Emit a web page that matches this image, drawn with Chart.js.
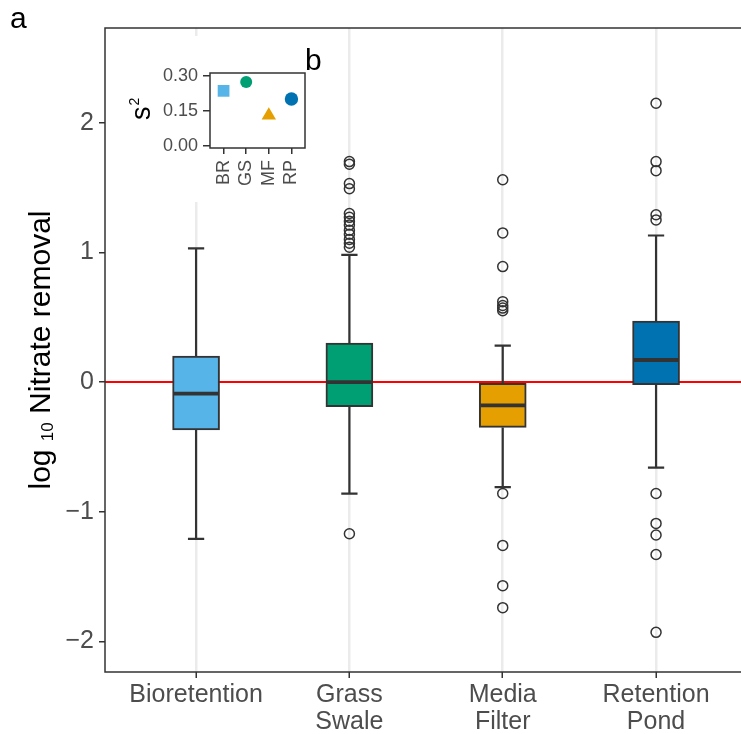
<!DOCTYPE html>
<html>
<head>
<meta charset="utf-8">
<script src="https://cdn.jsdelivr.net/npm/chart.js@4.4.1/dist/chart.umd.min.js"></script>
<style>
  html, body { margin: 0; padding: 0; background: #fff; overflow: hidden; }
  #wrap { position: relative; width: 741px; height: 734px; }
  #main { position: absolute; left: 0; top: 0; }
  #inset { position: absolute; left: 125px; top: 36px; background: #fff; }
</style>
</head>
<body>
<div id="wrap">
  <canvas id="main" width="741" height="734"></canvas>
  <canvas id="inset" width="215" height="166"></canvas>
</div>
<script>
// data
var categories = ["Bioretention", ["Grass", "Swale"], ["Media", "Filter"], ["Retention", "Pond"]];
var shortNames = ["BR", "GS", "MF", "RP"];
var boxColors = ["#56B4E9", "#009E73", "#E69F00", "#0072B2"];

var whiskerLow = [-1.21, -0.86, -0.81, -0.66];
var q1 = [-0.37, -0.19, -0.35, -0.02];
var median = [-0.09, 0.0, -0.18, 0.17];
var q3 = [0.20, 0.30, -0.01, 0.47];
var whiskerHigh = [1.03, 0.98, 0.28, 1.13];

var outliersBR = [];
var outliersGS = [1.70, 1.68, 1.53, 1.49, 1.30, 1.27, 1.24, 1.21, 1.17, 1.14, 1.10, 1.07, 1.04, -1.17];
var outliersMF = [1.56, 1.15, 0.89, 0.62, 0.59, 0.57, 0.55, -0.86, -1.26, -1.57, -1.74];
var outliersRP = [2.15, 1.70, 1.63, 1.29, 1.25, -0.86, -1.09, -1.18, -1.33, -1.93];

var yTicks = [-2, -1, 0, 1, 2];

// inset b: variance per group
var variance = [0.236, 0.274, 0.130, 0.201];
var varTicks = [0, 0.15, 0.30];

var FONT = "'Liberation Sans', Arial, sans-serif";
var DARK = "#333333";
var TXT = "#4d4d4d";

function minusSign(v) {
  return v < 0 ? "\u2212" + Math.abs(v) : String(v);
}

var outlierPoints = [];
[outliersBR, outliersGS, outliersMF, outliersRP].forEach(function (arr, i) {
  arr.forEach(function (v) { outlierPoints.push({ x: i + 1, y: v }); });
});

var boxPlugin = {
  id: "boxParts",
  beforeDatasetsDraw: function (chart) {
    var ctx = chart.ctx, a = chart.chartArea, y = chart.scales.y;
    // red reference line at zero
    ctx.save();
    ctx.strokeStyle = "#ff0000";
    ctx.lineWidth = 2;
    ctx.beginPath();
    ctx.moveTo(a.left, y.getPixelForValue(0));
    ctx.lineTo(a.right, y.getPixelForValue(0));
    ctx.stroke();
    ctx.restore();
  },
  afterDatasetsDraw: function (chart) {
    var ctx = chart.ctx, x = chart.scales.x, y = chart.scales.y;
    var capHalf = x.getPixelForValue(1.053) - x.getPixelForValue(1);
    var boxHalf = x.getPixelForValue(1.153) - x.getPixelForValue(1);
    ctx.save();
    ctx.strokeStyle = DARK;
    for (var i = 0; i < categories.length; i++) {
      var cx = x.getPixelForValue(i + 1);
      ctx.lineWidth = 2.2;
      ctx.beginPath();
      ctx.moveTo(cx, y.getPixelForValue(q3[i]));
      ctx.lineTo(cx, y.getPixelForValue(whiskerHigh[i]));
      ctx.moveTo(cx, y.getPixelForValue(q1[i]));
      ctx.lineTo(cx, y.getPixelForValue(whiskerLow[i]));
      ctx.moveTo(cx - capHalf, y.getPixelForValue(whiskerHigh[i]));
      ctx.lineTo(cx + capHalf, y.getPixelForValue(whiskerHigh[i]));
      ctx.moveTo(cx - capHalf, y.getPixelForValue(whiskerLow[i]));
      ctx.lineTo(cx + capHalf, y.getPixelForValue(whiskerLow[i]));
      ctx.stroke();
      ctx.lineWidth = 3.8;
      ctx.beginPath();
      ctx.moveTo(cx - boxHalf + 1, y.getPixelForValue(median[i]));
      ctx.lineTo(cx + boxHalf - 1, y.getPixelForValue(median[i]));
      ctx.stroke();
    }
    ctx.restore();
  },
  afterDraw: function (chart) {
    var ctx = chart.ctx, a = chart.chartArea;
    ctx.save();
    // panel frame; its right side lies past the edge of the picture
    ctx.strokeStyle = DARK;
    ctx.lineWidth = 1.5;
    ctx.beginPath();
    ctx.moveTo(a.right + 2, a.top);
    ctx.lineTo(a.left, a.top);
    ctx.lineTo(a.left, a.bottom);
    ctx.lineTo(a.right + 2, a.bottom);
    ctx.stroke();

    // panel tag
    ctx.fillStyle = "#000";
    ctx.font = "30px " + FONT;
    ctx.textBaseline = "alphabetic";
    ctx.fillText("a", 10, 28);

    // y title with subscript
    var big = "30px " + FONT, small = "17px " + FONT;
    ctx.font = big;
    var wLog = ctx.measureText("log ").width;
    var wRest = ctx.measureText(" Nitrate removal").width;
    ctx.font = small;
    var wSub = ctx.measureText("10").width;
    var total = wLog + wSub + wRest;
    ctx.translate(50, (a.top + a.bottom) / 2);
    ctx.rotate(-Math.PI / 2);
    var sx = -total / 2;
    ctx.font = big;
    ctx.fillText("log ", sx, 0);
    ctx.font = small;
    ctx.fillText("10", sx + wLog, 3);
    ctx.font = big;
    ctx.fillText(" Nitrate removal", sx + wLog + wSub, 0);
    ctx.restore();
  }
};

new Chart(document.getElementById("main"), {
  type: "bar",
  data: {
    datasets: [
      {
        type: "scatter",
        data: outlierPoints,
        pointStyle: "circle",
        pointRadius: 5,
        pointBackgroundColor: "rgba(0,0,0,0)",
        pointBorderColor: DARK,
        pointBorderWidth: 1.5,
        order: 1
      },
      {
        type: "bar",
        data: categories.map(function (c, i) { return { x: i + 1, y: [q1[i], q3[i]] }; }),
        backgroundColor: boxColors,
        borderColor: DARK,
        borderWidth: 2,
        borderSkipped: false,
        barThickness: 47,
        grouped: false,
        order: 2
      }
    ]
  },
  options: {
    responsive: false,
    animation: false,
    layout: { autoPadding: false, padding: { left: 0, right: 0, top: 28, bottom: 0 } },
    plugins: { legend: { display: false }, tooltip: { enabled: false } },
    scales: {
      x: {
        type: "linear",
        // the original panel is cut off on the right
        min: 0.406,
        max: 4.554,
        offset: false,
        afterBuildTicks: function (s) { s.ticks = [1, 2, 3, 4].map(function (v) { return { value: v }; }); },
        afterFit: function (s) { s.height = 62; s.paddingLeft = 0; s.paddingRight = 0; },
        border: { display: false },
        grid: { offset: false, color: "#ebebeb", lineWidth: 2.5, tickColor: DARK, tickWidth: 1.5, tickLength: 6 },
        ticks: {
          callback: function (v) { return categories[Math.round(v) - 1]; },
          font: { family: FONT, size: 25, lineHeight: 1.1 },
          color: TXT,
          padding: 3,
          maxRotation: 0,
          autoSkip: false
        }
      },
      y: {
        min: -2.236,
        max: 2.73,
        afterBuildTicks: function (s) { s.ticks = yTicks.map(function (v) { return { value: v }; }); },
        afterFit: function (s) { s.width = 105; },
        border: { display: false },
        grid: { drawOnChartArea: false, color: DARK, lineWidth: 1.5, tickLength: 6 },
        ticks: {
          callback: function (v) { return minusSign(v); },
          font: { family: FONT, size: 25 },
          color: TXT,
          padding: 5
        }
      }
    }
  },
  plugins: [boxPlugin]
});

var insetPlugin = {
  id: "insetParts",
  afterDraw: function (chart) {
    var ctx = chart.ctx, a = chart.chartArea;
    ctx.save();
    ctx.strokeStyle = DARK;
    ctx.lineWidth = 1.5;
    ctx.strokeRect(a.left, a.top, a.right - a.left, a.bottom - a.top);
    ctx.fillStyle = "#000";
    ctx.font = "30px " + FONT;
    ctx.fillText("b", a.right, 34);
    // s^2 title
    ctx.translate(25, 84);
    ctx.rotate(-Math.PI / 2);
    ctx.font = "27px " + FONT;
    var ws = ctx.measureText("s").width;
    ctx.fillText("s", 0, 0);
    ctx.font = "14px " + FONT;
    ctx.fillText("2", ws + 1, -11);
    ctx.restore();
  }
};

new Chart(document.getElementById("inset"), {
  type: "scatter",
  data: {
    datasets: [{
      data: variance.map(function (v, i) { return { x: i + 1, y: v }; }),
      pointStyle: ["rect", "circle", "triangle", "circle"],
      pointRadius: [8.3, 6, 8.3, 6.7],
      pointBackgroundColor: boxColors,
      pointBorderWidth: 0
    }]
  },
  options: {
    responsive: false,
    animation: false,
    layout: { autoPadding: false, padding: { left: 0, right: 35, top: 37, bottom: 0 } },
    plugins: { legend: { display: false }, tooltip: { enabled: false } },
    scales: {
      x: {
        type: "linear",
        min: 0.4,
        max: 4.6,
        afterBuildTicks: function (s) { s.ticks = [1, 2, 3, 4].map(function (v) { return { value: v }; }); },
        afterFit: function (s) { s.height = 54; s.paddingLeft = 0; s.paddingRight = 0; },
        border: { display: false },
        grid: { drawOnChartArea: false, color: DARK, lineWidth: 1.5, tickLength: 6 },
        ticks: {
          callback: function (v) { return shortNames[Math.round(v) - 1]; },
          font: { family: FONT, size: 18 },
          color: TXT,
          padding: 6,
          minRotation: 90,
          maxRotation: 90,
          autoSkip: false
        }
      },
      y: {
        min: -0.0105,
        max: 0.313,
        afterBuildTicks: function (s) { s.ticks = varTicks.map(function (v) { return { value: v }; }); },
        afterFit: function (s) { s.width = 85; },
        border: { display: false },
        grid: { drawOnChartArea: false, color: DARK, lineWidth: 1.5, tickLength: 7 },
        ticks: {
          callback: function (v) { return v.toFixed(2); },
          font: { family: FONT, size: 18 },
          color: TXT,
          padding: 5
        }
      }
    }
  },
  plugins: [insetPlugin]
});
</script>
</body>
</html>
